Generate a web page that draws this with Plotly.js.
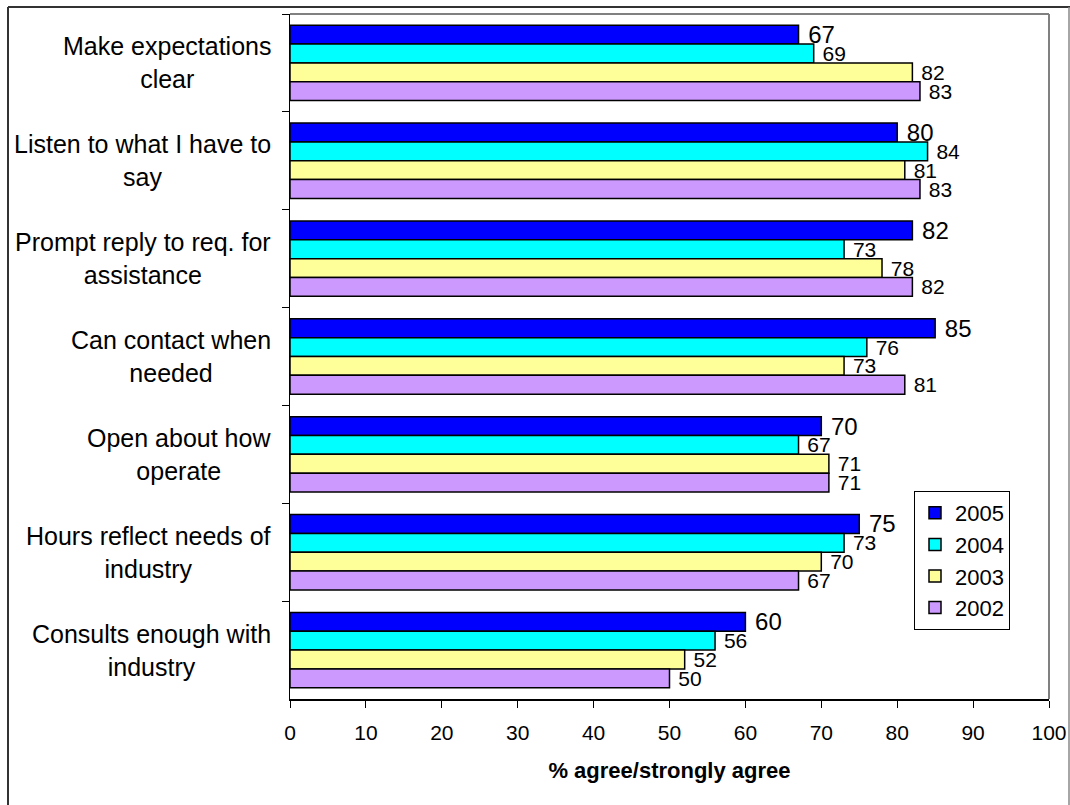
<!DOCTYPE html>
<html>
<head>
<meta charset="utf-8">
<script src="https://cdn.plot.ly/plotly-3.0.1.min.js"></script>
<style>html,body{margin:0;padding:0;background:#fff;}#chart{width:1070px;height:805px;}</style>
</head>
<body>
<div id="chart"></div>
<script>
var categories = [
  "Make expectations<br>clear",
  "Listen to what I have to<br>say",
  "Prompt reply to req. for<br>assistance",
  "Can contact when<br>needed",
  "Open about how<br>operate",
  "Hours reflect needs of<br>industry",
  "Consults enough with<br>industry"
];
var seriesNames = ["2005", "2004", "2003", "2002"];
var v2005 = [67, 80, 82, 85, 70, 75, 60];
var v2004 = [69, 84, 73, 76, 67, 73, 56];
var v2003 = [82, 81, 78, 73, 71, 70, 52];
var v2002 = [83, 83, 82, 81, 71, 67, 50];
var xTicks = [0, 10, 20, 30, 40, 50, 60, 70, 80, 90, 100];
var xTitle = "% agree/strongly agree";

var colors = ["#0000FF", "#00FFFF", "#FFFF99", "#CC99FF"];
var labelSizes = [24, 21, 21, 21];
var values = [v2005, v2004, v2003, v2002];
var FONT = "Liberation Sans, Arial, sans-serif";

var traces = values.map(function (vals, i) {
  return {
    type: "bar",
    orientation: "h",
    name: seriesNames[i],
    legendgroup: seriesNames[i],
    x: vals,
    y: categories,
    marker: { color: colors[i], line: { color: "#000", width: 1.5 } },
    texttemplate: "\u00a0%{x}",
    textposition: "outside",
    constraintext: "none",
    cliponaxis: false,
    textfont: { family: FONT, size: labelSizes[i], color: "#000" },
    hoverinfo: "x+name"
  };
});

var boundaries = [];
for (var k = 0; k <= categories.length; k++) boundaries.push(k - 0.5);

var annotations = categories.map(function (c) {
  return {
    xref: "paper", yref: "y",
    x: -0.022, y: c,
    xanchor: "right", yanchor: "middle",
    align: "center",
    text: c,
    showarrow: false,
    font: { family: FONT, size: 25, color: "#000" }
  };
});

function px2x(p) { return (p - 290) / 759; }
function py2y(p) { return (699 - p) / 685; }

var shapes = [
  { type: "line", xref: "paper", yref: "paper", x0: 0, x1: 1, y0: 1, y1: 1, line: { color: "#808080", width: 2 }, layer: "below" },
  { type: "line", xref: "paper", yref: "paper", x0: 1, x1: 1, y0: 0, y1: 1, line: { color: "#808080", width: 2 }, layer: "below" },
  { type: "line", xref: "paper", yref: "paper", x0: px2x(8), x1: px2x(8), y0: py2y(806), y1: py2y(7), line: { color: "#333", width: 2 } },
  { type: "line", xref: "paper", yref: "paper", x0: px2x(8), x1: px2x(1070), y0: py2y(7), y1: py2y(7), line: { color: "#333", width: 2 } },
  { type: "line", xref: "paper", yref: "paper", x0: px2x(1069), x1: px2x(1069), y0: py2y(806), y1: py2y(7), line: { color: "#888", width: 1.5 } }
];

var layout = {
  width: 1070, height: 805,
  margin: { l: 290, r: 21, t: 14, b: 106, pad: 0 },
  paper_bgcolor: "#fff", plot_bgcolor: "#fff",
  font: { family: FONT, color: "#000" },
  barmode: "group",
  bargap: 0.23,
  bargroupgap: 0,
  showlegend: true,
  legend: {
    x: px2x(914), y: py2y(491), xanchor: "left", yanchor: "top",
    bgcolor: "#fff", bordercolor: "#000", borderwidth: 1,
    font: { family: FONT, size: 22, color: "#000" },
    tracegroupgap: 2,
    traceorder: "normal",
    itemwidth: 30
  },
  xaxis: {
    range: [0, 100],
    tickvals: xTicks,
    ticktext: xTicks.map(String),
    ticks: "outside", ticklen: 7, tickwidth: 1, tickcolor: "#000",
    ticklabelstandoff: 7,
    showline: true, linecolor: "#000", linewidth: 1.5,
    showgrid: false, zeroline: false,
    tickfont: { family: FONT, size: 21, color: "#000" },
    title: { text: xTitle, font: { family: FONT, size: 22, color: "#000", weight: "bold" }, standoff: 20 },
    automargin: false,
    fixedrange: true
  },
  xaxis2: {
    overlaying: "x", anchor: "y", side: "bottom",
    range: [0, 100], tickvals: xTicks,
    ticks: "inside", ticklen: 7, tickwidth: 1, tickcolor: "#000",
    showticklabels: false, showline: false, showgrid: false, zeroline: false,
    fixedrange: true
  },
  yaxis: {
    type: "category",
    categoryorder: "array", categoryarray: categories,
    range: [categories.length - 0.5, -0.5],
    tickson: "boundaries",
    ticks: "outside", ticklen: 7, tickwidth: 1, tickcolor: "#000",
    showticklabels: false,
    showline: true, linecolor: "#000", linewidth: 1.5,
    showgrid: false, zeroline: false,
    automargin: false,
    fixedrange: true
  },
  yaxis2: {
    overlaying: "y", anchor: "x", side: "left",
    range: [categories.length - 0.5, -0.5],
    tickvals: boundaries,
    ticks: "inside", ticklen: 7, tickwidth: 1, tickcolor: "#000",
    showticklabels: false, showline: false, showgrid: false, zeroline: false,
    fixedrange: true
  },
  annotations: annotations,
  shapes: shapes
};

Plotly.newPlot("chart", traces, layout, { displayModeBar: false, staticPlot: true });
</script>
</body>
</html>
